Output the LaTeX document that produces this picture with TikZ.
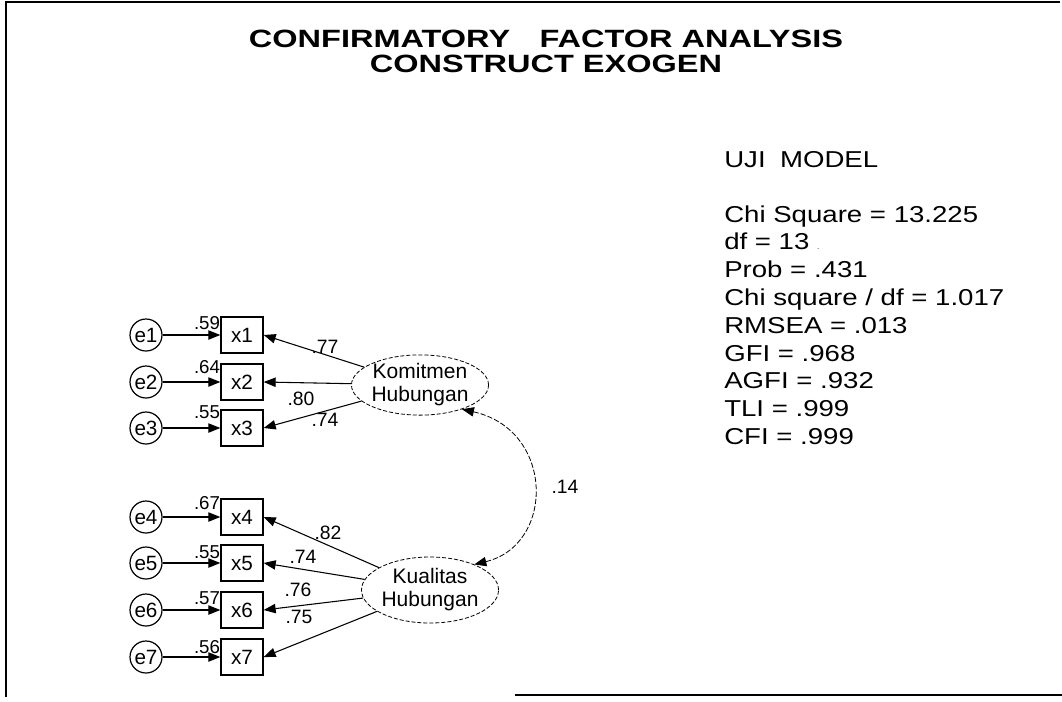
\documentclass[tikz,border=0pt]{standalone}
\usepackage{fontspec}
\setmainfont{Liberation Sans}
\usepackage{graphicx}
\usetikzlibrary{arrows.meta,shapes.geometric}
\newcommand{\sx}[1]{\scalebox{1.2}[1]{#1}}
\newcommand{\tx}[1]{\scalebox{1.3}[1]{#1}}
\tikzset{
  err/.style={circle, draw, line width=0.9pt, minimum size=24pt, inner sep=0pt, font=\fontsize{15.5}{15.5}\selectfont},
  obs/.style={rectangle, draw, line width=1pt, minimum width=31.5pt, minimum height=27pt, inner sep=0pt, font=\fontsize{15.5}{15.5}\selectfont},
  lat/.style={ellipse, draw, line width=0.6pt, dash pattern=on 3pt off 1.5pt, inner sep=0pt, align=center, font=\fontsize{15.75}{17.25}\selectfont},
  arr/.style={-{Triangle[length=9pt,width=7pt]}, line width=0.8pt},
  cov/.style={{Triangle[length=9pt,width=7pt]}-{Triangle[length=9pt,width=7pt]}, line width=0.6pt, dash pattern=on 4pt off 1.5pt},
  rlab/.style={font=\fontsize{14}{14}\selectfont, inner sep=0pt},
  llab/.style={font=\fontsize{14.5}{14.5}\selectfont, inner sep=0pt},
  stat/.style={anchor=base west, inner sep=0pt, font=\fontsize{17.25}{17.25}\selectfont},
  ttl/.style={anchor=base, inner sep=0pt, font=\fontsize{18.75}{18.75}\selectfont\bfseries},
  frame/.style={line width=1pt}
}
\begin{document}
\begin{tikzpicture}[x=0.75pt,y=-0.75pt]
\useasboundingbox (0,0) rectangle (1062,701);
% frame
\draw[frame] (6,697) -- (6,2) -- (1060,2);
\draw[frame] (515,695) -- (1062,695);
% title
\node[ttl] (t1) at (546,47) {\tx{CONFIRMATORY\hspace{17pt}FACTOR ANALYSIS}};
\node[ttl] (t2) at (546,72) {\tx{CONSTRUCT EXOGEN}};
% statistics
\node[stat] (u) at (724,167) {\sx{UJI\hspace{9pt}MODEL}};
\foreach \t [count=\i] in {Chi Square = 13.225, {df = 13 {\tiny .}}, Prob = .431, Chi square / df = 1.017, RMSEA = .013, GFI = .968, AGFI = .932, TLI = .999, CFI = .999}
  \node[stat] (s\i) at (724,{222+27.8*(\i-1)}) {\sx{\t}};
% measurement model
\foreach \i/\y in {1/335,2/382,3/428,4/517,5/563,6/610,7/657} {
  \node[err] (e\i) at (146,\y) {e\i};
  \node[obs] (x\i) at (242,\y) {x\i};
  \draw[arr] (e\i) -- (x\i);
}
\foreach \i/\v/\y in {1/.59/323,2/.64/367,3/.55/412,4/.67/503,5/.55/552,6/.57/598,7/.56/647}
  \node[rlab] (r\i) at (207,\y) {\v};
\node[lat, minimum width=102pt, minimum height=43.5pt] (kom) at (420,385) {Komitmen\\Hubungan};
\node[lat, minimum width=93pt, minimum height=49.5pt] (kual) at (430,590) {Kualitas\\Hubungan};
\foreach \i in {1,2,3} \draw[arr] (kom) -- (x\i.east);
\foreach \i in {4,5,6,7} \draw[arr] (kual) -- (x\i.east);
\node[llab] (l1) at (325,347) {.77};
\node[llab] (l2) at (301,399) {.80};
\node[llab] (l3) at (325,420) {.74};
\node[llab] (l4) at (328,533) {.82};
\node[llab] (l5) at (303,557) {.74};
\node[llab] (l6) at (298,590) {.76};
\node[llab] (l7) at (299,617) {.75};
\draw[cov] (kom.-30) .. controls (555,430) and (555,545) .. (kual.30);
\node[llab] (c) at (565,487) {.14};
\end{tikzpicture}
\end{document}
